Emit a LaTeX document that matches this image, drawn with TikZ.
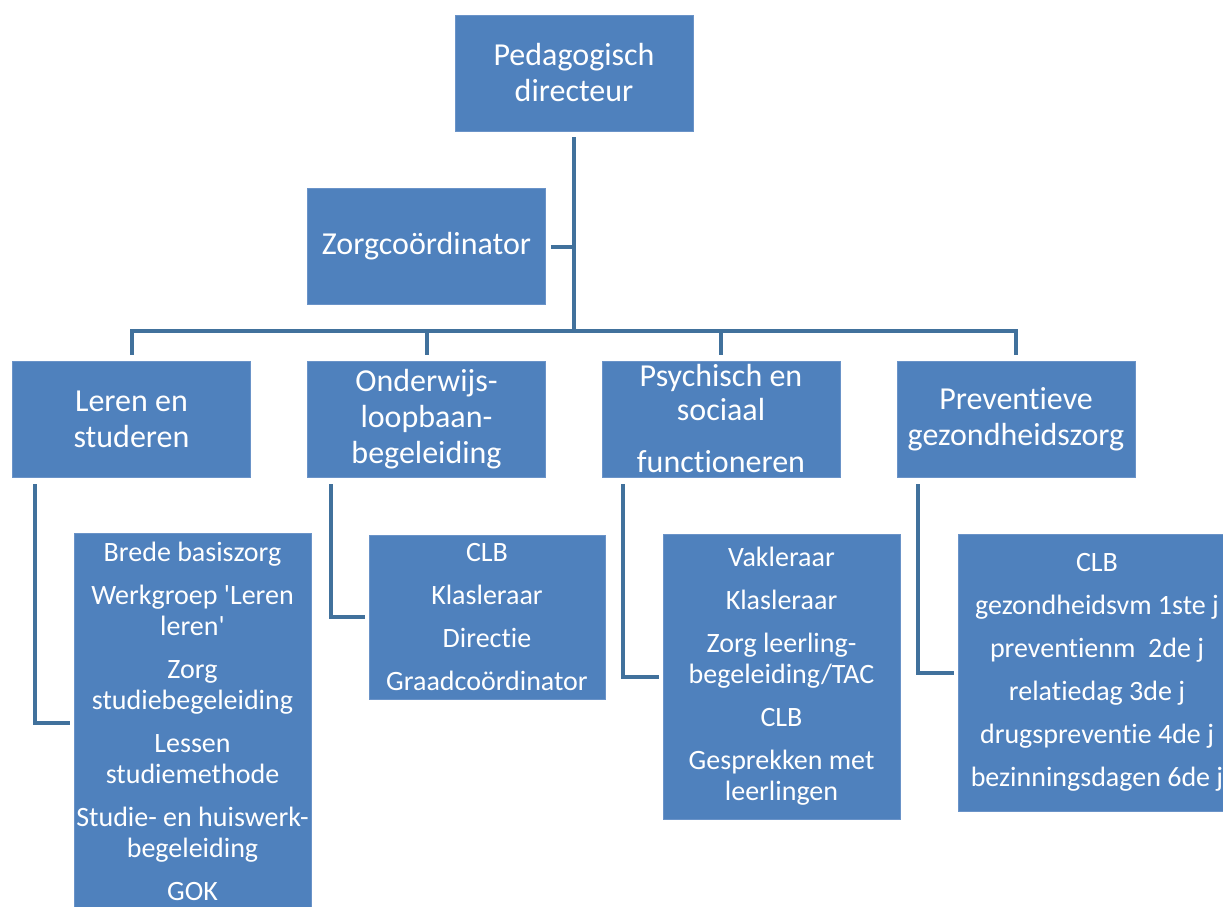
\documentclass[tikz,border=0pt]{standalone}
\usepackage{fontspec}
\setmainfont{Carlito}[Ligatures=NoCommon]
\newfontfamily\plainq{Carlito}
\definecolor{boxblue}{HTML}{4F81BD}
\definecolor{boxedge}{HTML}{6A93C8}
\definecolor{linkblue}{HTML}{41719C}
\newcommand{\sq}{{\plainq\char"0027}}
\begin{document}
\begin{tikzpicture}[x=1pt,y=-1pt,
  box/.style={fill=boxblue, draw=boxedge, line width=0.8pt, text=white, align=center, inner sep=0pt},
  mainbox/.style={box, font=\fontsize{32}{36}\selectfont, minimum width=238pt, minimum height=116pt},
  subbox/.style={box, font=\fontsize{28}{31}\selectfont},
  link/.style={draw=linkblue, line width=4pt}]
\useasboundingbox (0,0) rectangle (1223,907);
\clip (0,0) rectangle (1223,907);
% top levels
\node[mainbox] (top) at (574,73) {Pedagogisch\\directeur};
\node[mainbox] (zorg) at (426.5,246.5) {Zorgco\"ordinator};
\node[mainbox] (l1) at (131.5,419) {Leren en\\studeren};
\node[mainbox] (l2) at (426.5,419) {Onderwijs-\\loopbaan-\\begeleiding};
\node[mainbox] (l3) at (721,419) {Psychisch en\\[-2pt]sociaal\\[16pt]functioneren};
\node[mainbox] (l4) at (1016,419) {Preventieve\\gezondheidszorg};
% children
\node[subbox, minimum width=237pt, minimum height=375pt] (c1) at (192.5,721)
  {Brede basiszorg\\[12pt]Werkgroep \sq Leren\\leren\sq\\[12pt]Zorg\\studiebegeleiding\\[12pt]Lessen\\studiemethode\\[12pt]Studie- en huiswerk-\\begeleiding\\[12pt]GOK};
\node[subbox, minimum width=236pt, minimum height=164pt] (c2) at (487,617)
  {CLB\\[12pt]Klasleraar\\[12pt]Directie\\[12pt]Graadco\"ordinator};
\node[subbox, minimum width=237pt, minimum height=285pt] (c3) at (781.5,676.5)
  {Vakleraar\\[12pt]Klasleraar\\[12pt]Zorg leerling-\\begeleiding/TAC\\[12pt]CLB\\[12pt]Gesprekken met\\leerlingen};
\node[subbox, minimum width=278pt, minimum height=277pt] (c4) at (1097,672.5)
  {CLB\\[12pt]gezondheidsvm 1ste j\\[12pt]preventienm\ \ 2de j\\[12pt]relatiedag 3de j\\[12pt]drugspreventie 4de j\\[12pt]bezinningsdagen 6de j};
% connectors
\coordinate (bus) at (574,331);
\draw[link] ([yshift=-6pt]top.south) -- (top.south |- bus);
\draw[link] ([xshift=5pt]zorg.east) -- (zorg.east -| top.south);
\draw[link] ([yshift=6pt]l1.north) -- (l1.north |- bus) -- (l4.north |- bus) -- ([yshift=6pt]l4.north);
\draw[link] (l2.north |- bus) -- ([yshift=6pt]l2.north);
\draw[link] (l3.north |- bus) -- ([yshift=6pt]l3.north);
\draw[link] ([xshift=23pt,yshift=-7pt]l1.south west) |- ([xshift=-4pt,yshift=-2pt]c1.west);
\draw[link] ([xshift=24pt,yshift=-7pt]l2.south west) |- ([xshift=-4pt]c2.west);
\draw[link] ([xshift=21pt,yshift=-7pt]l3.south west) |- ([xshift=-4pt]c3.west);
\draw[link] ([xshift=21pt,yshift=-7pt]l4.south west) |- ([xshift=-4pt]c4.west);
\end{tikzpicture}
\end{document}
